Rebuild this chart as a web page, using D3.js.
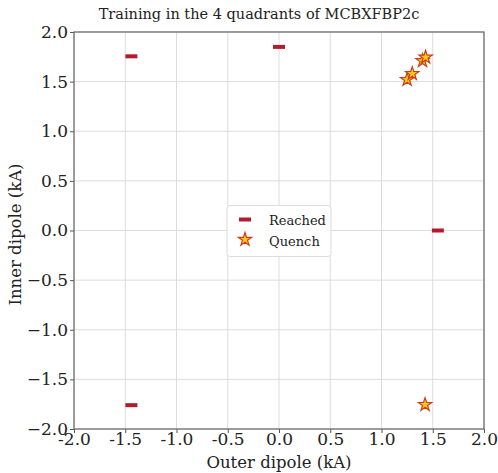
<!DOCTYPE html>
<html>
<head>
<meta charset="utf-8">
<script src="https://cdn.jsdelivr.net/npm/d3@7"></script>
<style>
  body { margin: 0; background: #fff; }
  text { font-family: "DejaVu Serif", serif; }
</style>
</head>
<body>
<div id="chart"></div>
<script>
// Chart size and plot margins
const width = 498, height = 473, margin = { top: 32, right: 14, bottom: 44, left: 74 };
const innerW = width - margin.left - margin.right, innerH = height - margin.top - margin.bottom;

// Reached currents (outer, inner) in kA
const reachedX = [-1.44, 0.0, 1.55, -1.44];
const reachedY = [1.755, 1.85, 0.0, -1.76];

// Quench points (outer, inner) in kA
const quenchX = [1.25, 1.30, 1.40, 1.43, 1.425];
const quenchY = [1.52, 1.58, 1.71, 1.745, -1.755];

// Tick values
const ticks = [-2.0, -1.5, -1.0, -0.5, 0.0, 0.5, 1.0, 1.5, 2.0];

const svg = d3.select("#chart")
  .append("svg")
  .attr("width", width)
  .attr("height", height);

const g = svg.append("g")
  .attr("transform", `translate(${margin.left},${margin.top})`);

const x = d3.scaleLinear().domain([-2, 2]).range([0, innerW]);
const y = d3.scaleLinear().domain([-2, 2]).range([innerH, 0]);

// Grid
g.append("g").selectAll("line")
  .data(ticks)
  .join("line")
  .attr("x1", d => x(d)).attr("x2", d => x(d))
  .attr("y1", 0).attr("y2", innerH)
  .attr("stroke", "#dcdcdc").attr("stroke-width", 1);

g.append("g").selectAll("line")
  .data(ticks)
  .join("line")
  .attr("x1", 0).attr("x2", innerW)
  .attr("y1", d => y(d)).attr("y2", d => y(d))
  .attr("stroke", "#dcdcdc").attr("stroke-width", 1);

// Axes (x labels use a plain hyphen, y labels a real minus sign)
const xAxis = g.append("g")
  .attr("transform", `translate(0,${innerH})`)
  .call(d3.axisBottom(x).tickValues(ticks).tickSize(4).tickPadding(0)
    .tickFormat(d => d.toFixed(1)));

const yAxis = g.append("g")
  .call(d3.axisLeft(y).tickValues(ticks).tickSize(4).tickPadding(2)
    .tickFormat(d => d.toFixed(1).replace("-", "\u2212")));

[xAxis, yAxis].forEach(a => {
  a.attr("font-size", 17).attr("font-family", "DejaVu Serif");
  a.select(".domain").remove();
  a.selectAll("line").attr("stroke", "#555");
  a.selectAll("text").attr("fill", "#222");
});

// Frame
g.append("rect")
  .attr("width", innerW).attr("height", innerH)
  .attr("fill", "none").attr("stroke", "#666").attr("stroke-width", 1.2);

// Reached markers (short thick bars)
g.selectAll("rect.reached")
  .data(reachedX.map((v, i) => [v, reachedY[i]]))
  .join("rect")
  .attr("class", "reached")
  .attr("x", d => x(d[0]) - 6)
  .attr("y", d => y(d[1]) - 2)
  .attr("width", 12).attr("height", 4)
  .attr("fill", "#b01c2e");

// Quench markers (stars)
const star = d3.symbol().type(d3.symbolStar).size(55);
g.selectAll("path.quench")
  .data(quenchX.map((v, i) => [v, quenchY[i]]))
  .join("path")
  .attr("class", "quench")
  .attr("d", star)
  .attr("transform", d => `translate(${x(d[0])},${y(d[1])})`)
  .attr("fill", "#ffc61a")
  .attr("stroke", "#c8401a").attr("stroke-width", 1.2);

// Legend
const legend = g.append("g")
  .attr("transform", `translate(${x(0) - 52},${y(0) - 25})`);

legend.append("rect")
  .attr("width", 104).attr("height", 51).attr("rx", 3)
  .attr("fill", "#fff").attr("fill-opacity", 0.85)
  .attr("stroke", "#ddd");

legend.append("rect")
  .attr("x", 12).attr("y", 12).attr("width", 12).attr("height", 4)
  .attr("fill", "#b01c2e");

legend.append("path")
  .attr("d", star)
  .attr("transform", "translate(18,34)")
  .attr("fill", "#ffc61a")
  .attr("stroke", "#c8401a").attr("stroke-width", 1.2);

legend.selectAll("text")
  .data(["Reached", "Quench"])
  .join("text")
  .attr("x", 42)
  .attr("y", (d, i) => 19 + i * 21)
  .attr("font-size", 13)
  .attr("fill", "#222")
  .text(d => d);

// Title and axis labels
svg.append("text")
  .attr("x", 259).attr("y", 19)
  .attr("text-anchor", "middle").attr("font-size", 14.5).attr("fill", "#222")
  .text("Training in the 4 quadrants of MCBXFBP2c");

svg.append("text")
  .attr("x", 279).attr("y", 468)
  .attr("text-anchor", "middle").attr("font-size", 16.5).attr("fill", "#222")
  .text("Outer dipole (kA)");

svg.append("text")
  .attr("transform", `translate(21,${margin.top + innerH / 2 + 4}) rotate(-90)`)
  .attr("text-anchor", "middle").attr("font-size", 16.5).attr("fill", "#222")
  .text("Inner dipole (kA)");
</script>
</body>
</html>
